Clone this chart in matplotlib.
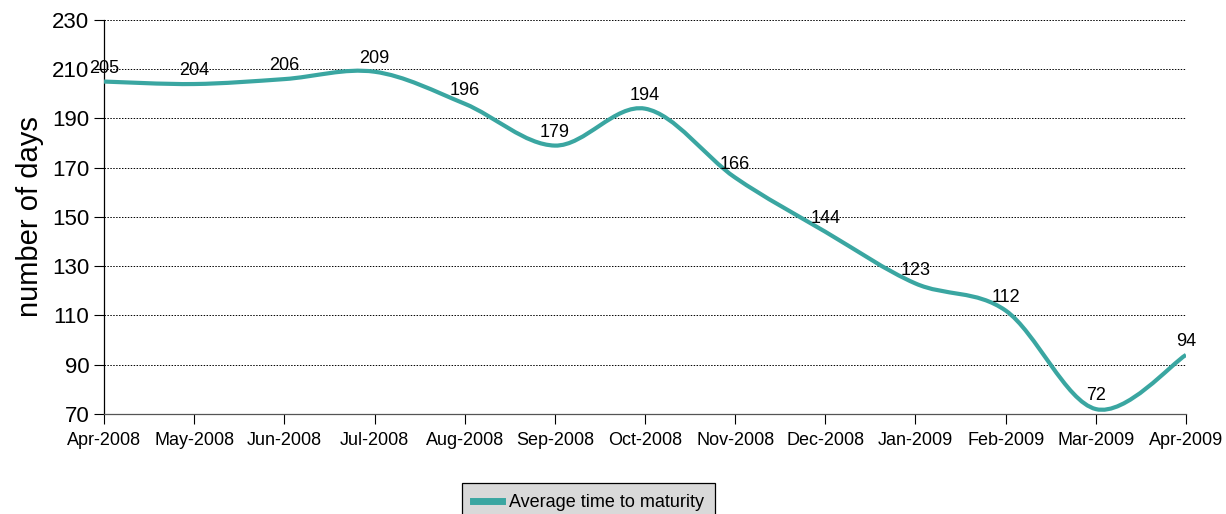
import numpy as np
import matplotlib.pyplot as plt
from matplotlib.path import Path
from matplotlib.patches import PathPatch
from matplotlib.lines import Line2D

plt.rcParams["font.family"] = ["Liberation Sans", "DejaVu Sans"]

months = ["Apr-2008", "May-2008", "Jun-2008", "Jul-2008", "Aug-2008", "Sep-2008",
          "Oct-2008", "Nov-2008", "Dec-2008", "Jan-2009", "Feb-2009", "Mar-2009",
          "Apr-2009"]
days = [205, 204, 206, 209, 196, 179, 194, 166, 144, 123, 112, 72, 94]
yticks = [70, 90, 110, 130, 150, 170, 190, 210, 230]

TEAL = "#3aa6a1"


def smooth_path(xs, ys):
    # Excel-style smoothed line: cubic bezier with catmull-rom control points
    pts = np.column_stack([xs, ys]).astype(float)
    n = len(pts)
    verts = [pts[0]]
    codes = [Path.MOVETO]
    for i in range(n - 1):
        p_prev = pts[i - 1] if i > 0 else pts[i]
        p0 = pts[i]
        p1 = pts[i + 1]
        p_next = pts[i + 2] if i + 2 < n else pts[i + 1]
        c1 = p0 + (p1 - p_prev) / 6.0
        c2 = p1 - (p_next - p0) / 6.0
        verts += [c1, c2, p1]
        codes += [Path.CURVE4] * 3
    return Path(verts, codes)


fig = plt.figure(figsize=(12.26, 5.14), dpi=100)
ax = fig.add_axes([104 / 1226, 1 - 414 / 514, 1082 / 1226, 394 / 514])

x = np.arange(len(months))
ax.add_patch(PathPatch(smooth_path(x, days), facecolor="none", edgecolor=TEAL,
                       lw=3.0, capstyle="butt", zorder=3))

for xi, v in zip(x, days):
    ax.annotate(str(v), (xi, v), xytext=(0, 3.5), textcoords="offset points",
                ha="center", va="bottom", fontsize=13, zorder=4)

ax.set_xlim(0, len(months) - 1)
ax.set_ylim(70, 230)
ax.set_yticks(yticks)
ax.set_xticks(x)
ax.set_xticklabels(months, fontsize=13)
ax.tick_params(axis="y", labelsize=16, length=7, width=0.8, direction="out")
ax.tick_params(axis="x", length=7, width=0.8, direction="out", pad=6)
ax.grid(axis="y", linestyle=(0, (1.5, 1.5)), color="black", lw=0.7)
ax.set_axisbelow(True)

for s in ["top", "right"]:
    ax.spines[s].set_visible(False)
ax.spines["left"].set_linewidth(0.9)
ax.spines["bottom"].set_linewidth(0.9)
ax.spines["bottom"].set_color("#555555")

ax.set_ylabel("number of days", fontsize=21, labelpad=6)

handle = Line2D([], [], color=TEAL, lw=5)
leg = fig.legend([handle], ["Average time to maturity"], loc="upper left",
                 bbox_to_anchor=(462 / 1226, 1 - 483 / 514), fontsize=13,
                 frameon=True, fancybox=False, handlelength=1.6, handletextpad=0.4,
                 borderpad=0.6, borderaxespad=0)
leg.get_frame().set_facecolor("#d9d9d9")
leg.get_frame().set_edgecolor("black")
leg.get_frame().set_linewidth(0.9)
leg.get_frame().set_alpha(1)

fig.savefig("out.png", dpi=100)
